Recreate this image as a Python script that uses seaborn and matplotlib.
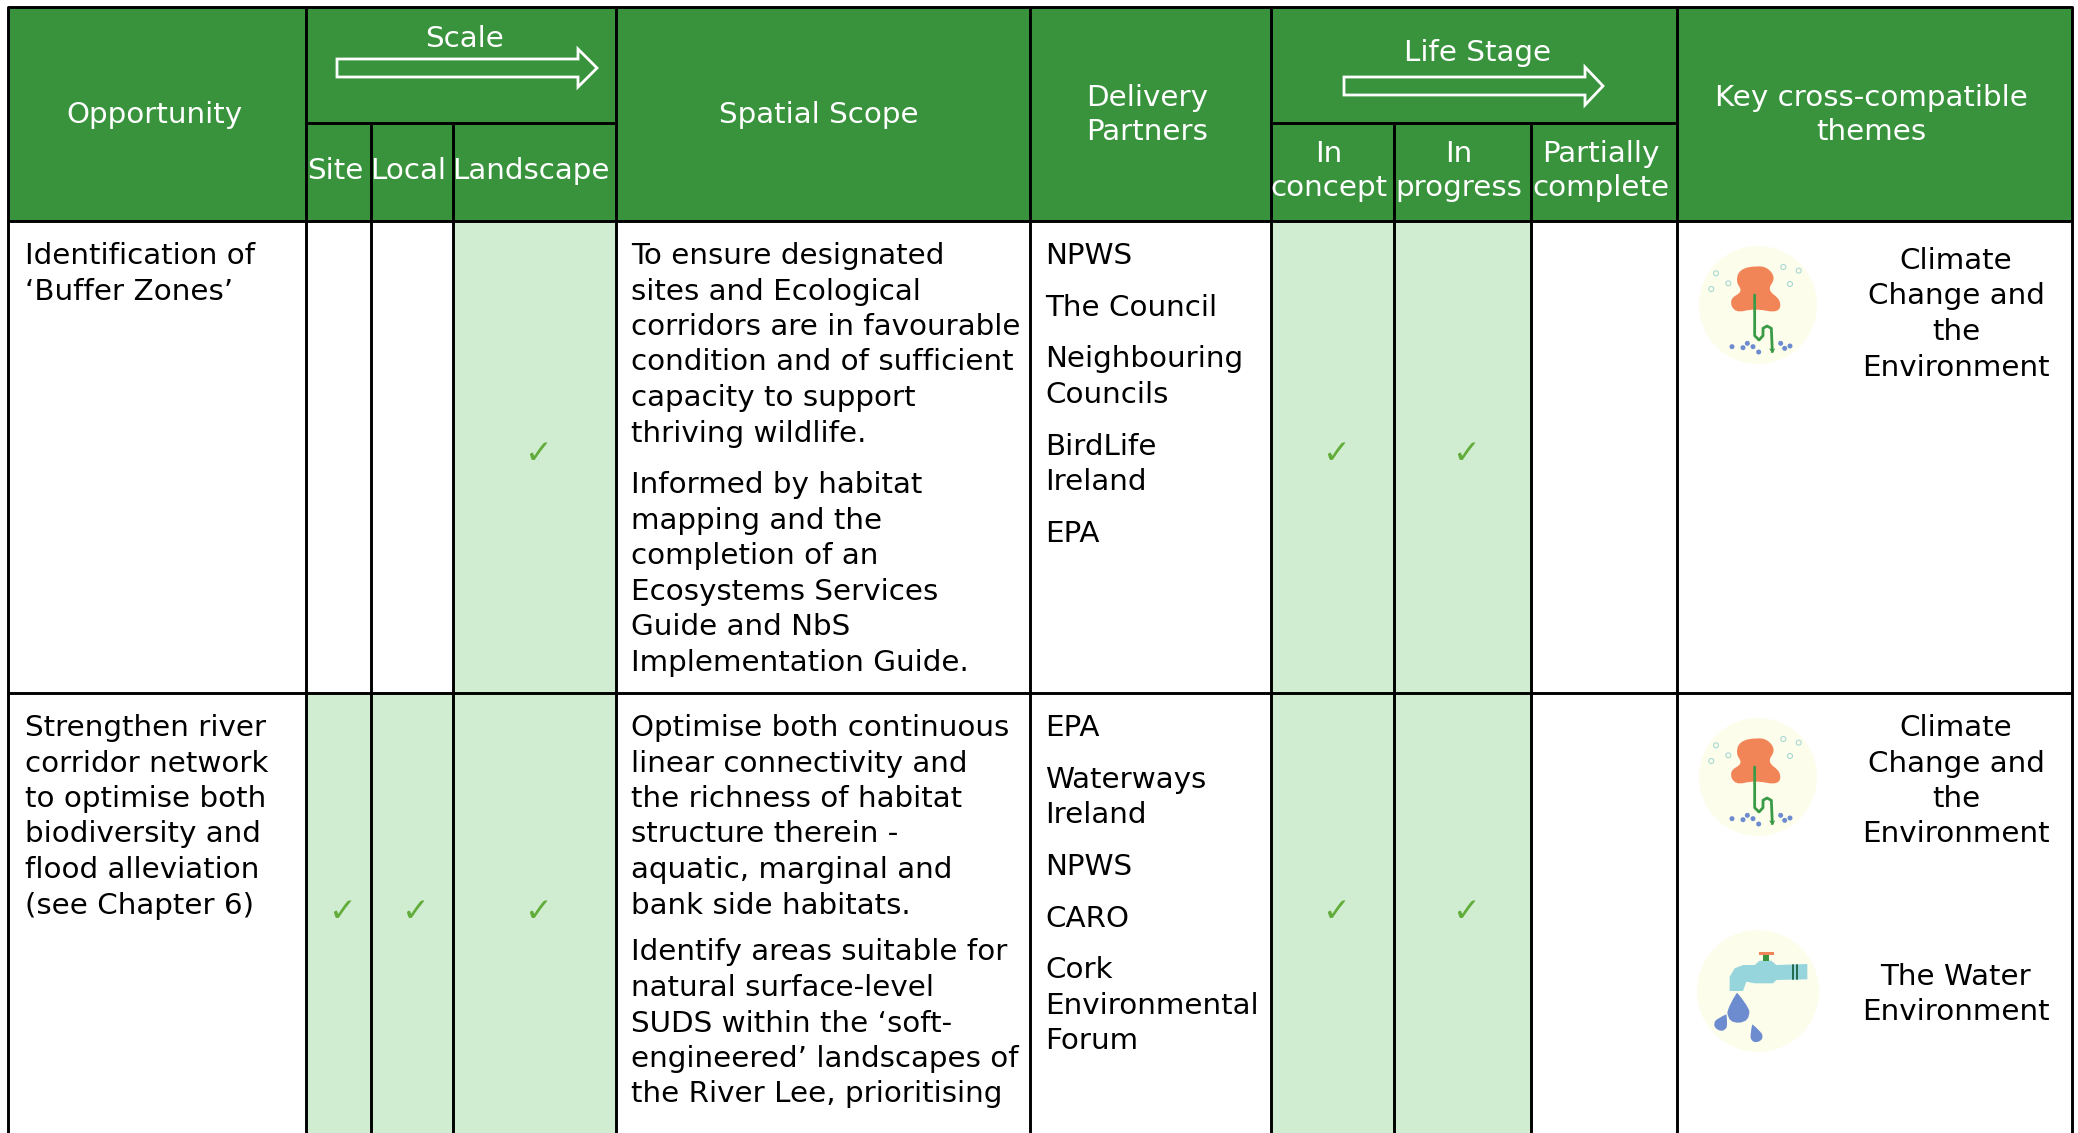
import numpy as np
import pandas as pd
import matplotlib
matplotlib.use("Agg")
import matplotlib.pyplot as plt
import seaborn as sns
from matplotlib.colors import ListedColormap
from matplotlib.patches import Rectangle, Circle, Polygon, PathPatch
from matplotlib.path import Path

sns.set_theme(style="white")
plt.rcParams['font.family'] = ['DejaVu Sans']

# table content
scale_cols = ["Site", "Local", "Landscape"]
stage_cols = ["In\nconcept", "In\nprogress", "Partially\ncomplete"]
scale_flags = [[0, 0, 1], [1, 1, 1]]
stage_flags = [[1, 1, 0], [1, 1, 0]]

opportunity = [
    ["Identification of", "‘Buffer Zones’"],
    ["Strengthen river", "corridor network", "to optimise both", "biodiversity and",
     "flood alleviation", "(see Chapter 6)"],
]
scope = [
    [["To ensure designated", "sites and Ecological", "corridors are in favourable",
      "condition and of sufficient", "capacity to support", "thriving wildlife."],
     ["Informed by habitat", "mapping and the", "completion of an", "Ecosystems Services",
      "Guide and NbS", "Implementation Guide."]],
    [["Optimise both continuous", "linear connectivity and", "the richness of habitat",
      "structure therein -", "aquatic, marginal and", "bank side habitats."],
     ["Identify areas suitable for", "natural surface-level", "SUDS within the ‘soft-",
      "engineered’ landscapes of", "the River Lee, prioritising"]],
]
partners = [
    [["NPWS"], ["The Council"], ["Neighbouring", "Councils"], ["BirdLife", "Ireland"], ["EPA"]],
    [["EPA"], ["Waterways", "Ireland"], ["NPWS"], ["CARO"], ["Cork", "Environmental", "Forum"]],
]
climate_theme = ["Climate", "Change and", "the", "Environment"]
water_theme = ["The Water", "Environment"]

# layout in pixels of the page
W, H = 2078, 1133
col_x = [8, 306, 371, 453, 616, 1030, 1271, 1394, 1531, 1677, 2072]
row_y = [7, 123, 221, 693, 1135]
GREEN = "#38933c"
LIGHT = "#d0edd2"
TICK = "#62ad3a"
BODY = 21.2
HEAD = 21.2
LINE = 35.5
PARA = 16.2

fig = plt.figure(figsize=(W / 100, H / 100), dpi=100, facecolor="white")


def add_cell(x0, x1, y0, y1, flag):
    # one heatmap per cell, the columns are not equally wide
    ax_c = fig.add_axes([x0 / W, 1 - y1 / H, (x1 - x0) / W, (y1 - y0) / H], zorder=1)
    frame = pd.DataFrame([[flag]])
    labels = [["✓" if flag else ""]]
    sns.heatmap(frame, ax=ax_c, cmap=ListedColormap(["white", LIGHT]), vmin=0, vmax=1,
                cbar=False, xticklabels=False, yticklabels=False,
                annot=labels, fmt="", annot_kws={"color": TICK, "fontsize": 24})
    # ticks sit a little right and above the cell centre
    for t in ax_c.texts:
        t.set_position((0.5 + 4 / (x1 - x0), 0.5 - 3 / (y1 - y0)))
    return ax_c


for i in range(2):
    for j in range(3):
        add_cell(col_x[j + 1], col_x[j + 2], row_y[i + 2], row_y[i + 3], scale_flags[i][j])
        add_cell(col_x[j + 6], col_x[j + 7], row_y[i + 2], row_y[i + 3], stage_flags[i][j])

ax = fig.add_axes([0, 0, 1, 1], zorder=2)
ax.set_xlim(0, W)
ax.set_ylim(H, 0)
ax.axis("off")
ax.patch.set_alpha(0)

ax.add_patch(Rectangle((col_x[0], row_y[0]), col_x[-1] - col_x[0], row_y[2] - row_y[0],
                       facecolor=GREEN, edgecolor="none", zorder=1))

# grid lines
for x in [col_x[0], col_x[1], col_x[4], col_x[5], col_x[6], col_x[9], col_x[10]]:
    ax.plot([x, x], [row_y[0], H], color="black", lw=2.1, zorder=3, solid_capstyle="butt")
for x in [col_x[2], col_x[3], col_x[7], col_x[8]]:
    ax.plot([x, x], [row_y[1], H], color="black", lw=2.1, zorder=3, solid_capstyle="butt")
for y in [row_y[0], row_y[2], row_y[3]]:
    ax.plot([col_x[0], col_x[-1]], [y, y], color="black", lw=2.1, zorder=3)
ax.plot([col_x[1], col_x[4]], [row_y[1], row_y[1]], color="black", lw=2.1, zorder=3)
ax.plot([col_x[6], col_x[9]], [row_y[1], row_y[1]], color="black", lw=2.1, zorder=3)


def head_text(x, y, s):
    ax.text(x, y, s, color="white", fontsize=HEAD, ha="center", va="center",
            linespacing=1.28, zorder=4)


head_text(154, 115, "Opportunity")
head_text(465, 39, "Scale")
head_text(819, 115, "Spatial Scope")
head_text(1147, 115, "Delivery\nPartners")
head_text(1478, 53, "Life Stage")
head_text(1871, 115, "Key cross-compatible\nthemes")
for x, s in zip([335, 408, 531], scale_cols):
    head_text(x, 171, s)
for x, s in zip([1329, 1459, 1601], stage_cols):
    head_text(x, 171, s)


def arrow(x0, x1, xh, y, half, headhalf):
    pts = [(x0, y - half), (xh, y - half), (xh, y - headhalf), (x1, y), (xh, y + headhalf),
           (xh, y + half), (x0, y + half)]
    ax.add_patch(Polygon(pts, closed=True, facecolor="none", edgecolor="white", lw=2, zorder=4))


arrow(337, 597, 578, 68, 9, 19)
arrow(1344, 1603, 1585, 86, 9, 19)


def block(x, y, paragraphs, ha="left", para=PARA):
    for par in paragraphs:
        for line in par:
            ax.text(x, y, line, color="black", fontsize=BODY, ha=ha, va="baseline", zorder=4)
            y += LINE
        y += para


starts = [264, 736]
scope_gap = [PARA, 11.5]
for i in range(2):
    block(25, starts[i], [opportunity[i]])
    block(631, starts[i], scope[i], para=scope_gap[i])
    block(1045, starts[i], partners[i])

block(1956, 269, [climate_theme], ha="center")
block(1956, 736, [climate_theme], ha="center")
block(1956, 985, [water_theme], ha="center")


def smooth_closed(pts):
    pts = np.array(pts, dtype=float)
    mids = (pts + np.roll(pts, -1, axis=0)) / 2
    verts = [mids[-1]]
    codes = [Path.MOVETO]
    for k in range(len(pts)):
        verts += [pts[k], mids[k]]
        codes += [Path.CURVE3, Path.CURVE3]
    return Path(verts, codes)


def drop(cx, cy, r, tipx, tipy, color):
    dx, dy = cx - tipx, cy - tipy
    n = np.hypot(dx, dy)
    ux, uy = dx / n, dy / n
    nx, ny = -uy, ux
    verts = [(tipx, tipy),
             (cx + nx * r * 0.8 - dx * 0.4, cy + ny * r * 0.8 - dy * 0.4),
             (cx + nx * r, cy + ny * r),
             (cx + nx * r + ux * r, cy + ny * r + uy * r),
             (cx + ux * r, cy + uy * r),
             (cx - nx * r + ux * r, cy - ny * r + uy * r),
             (cx - nx * r, cy - ny * r),
             (cx - nx * r * 0.8 - dx * 0.4, cy - ny * r * 0.8 - dy * 0.4),
             (tipx, tipy)]
    codes = [Path.MOVETO] + [Path.CURVE3] * 8
    ax.add_patch(PathPatch(Path(verts, codes), facecolor=color, edgecolor="none", zorder=5))


def climate_icon(cx, cy):
    # sketch coordinates below are 3x pixel offsets, centre at (295, 230)
    def p(a, b):
        return cx + (a - 295) / 3, cy + (b - 230) / 3
    ax.add_patch(Circle((cx, cy), 59, facecolor="#fdfdec", edgecolor="none", zorder=4))
    blob = [(292, 112), (240, 122), (228, 160), (250, 190), (208, 212), (225, 255), (285, 240),
            (358, 255), (365, 215), (322, 185), (348, 150), (325, 118)]
    ax.add_patch(PathPatch(smooth_closed([p(*b) for b in blob]), facecolor="#f28558",
                           edgecolor="none", zorder=5))
    stem = [(285, 200), (285, 322), (298, 335), (310, 322), (310, 300), (322, 293), (335, 300),
            (338, 370)]
    sx, sy = zip(*[p(*b) for b in stem])
    ax.plot(sx, sy, color="#3a9a45", lw=2.0, zorder=6, solid_joinstyle="round")
    ax.plot(*zip(p(331, 362), p(338, 372), p(344, 362)), color="#3a9a45", lw=0.8, zorder=6)
    for b in [(217, 355), (250, 358), (263, 345), (280, 355), (297, 371), (363, 345), (375, 360),
              (391, 353)]:
        ax.add_patch(Circle(p(*b), 2.5, facecolor="#6d8bcf", edgecolor="none", zorder=6))
    for b in [(169, 135), (206, 165), (155, 182), (371, 116), (417, 127), (391, 167)]:
        ax.add_patch(Circle(p(*b), 2.5, facecolor="none", edgecolor="#a8d8d4", lw=0.8, zorder=6))


def water_icon(cx, cy):
    def p(a, b):
        return cx + (a - 295) / 3, cy + (b - 873) / 3
    ax.add_patch(Circle((cx, cy), 61, facecolor="#fdfdec", edgecolor="none", zorder=4))
    body = [(210, 873), (210, 830), (225, 805), (250, 795), (285, 795), (300, 782), (335, 782),
            (350, 795), (443, 792), (443, 838), (350, 840), (340, 850), (285, 850), (260, 845),
            (250, 873)]
    ax.add_patch(Polygon([p(*b) for b in body], closed=True, facecolor="#97d5dd",
                         edgecolor="none", zorder=5))
    ax.add_patch(Polygon([p(310, 762), p(327, 762), p(327, 783), p(310, 783)], closed=True,
                         facecolor="#38933c", edgecolor="none", zorder=6))
    ax.add_patch(Polygon([p(297, 757), p(342, 757), p(342, 764), p(297, 764)], closed=True,
                         facecolor="#f28558", edgecolor="none", zorder=6))
    for a in [400, 411]:
        ax.plot(*zip(p(a, 795), p(a, 838)), color="#1f6b4f", lw=1.4, zorder=6)
    drop(*p(236, 935), 11, *p(232, 878), "#6d8bcf")
    drop(*p(184, 972), 6.5, *p(200, 943), "#6d8bcf")
    drop(*p(290, 1008), 6, *p(278, 973), "#6d8bcf")


climate_icon(1758, 305)
climate_icon(1758, 777)
water_icon(1758, 991)

fig.savefig("out.png", dpi=100)
